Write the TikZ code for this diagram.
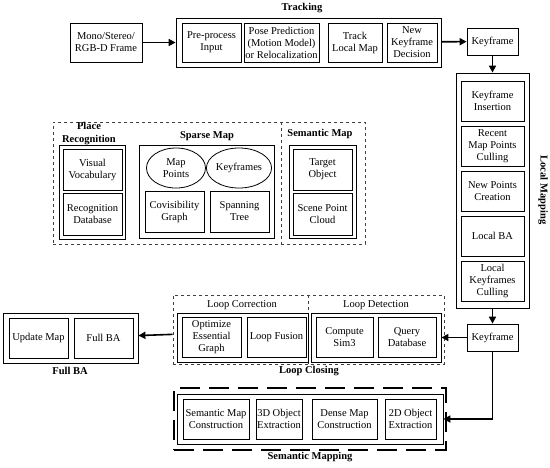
\documentclass[tikz,border=0pt]{standalone}
\usepackage{fontspec}
\setmainfont{Liberation Serif}
\usetikzlibrary{arrows.meta,shapes.geometric}

\tikzset{
	blk/.style={draw, rectangle, inner sep=0pt, align=center, line width=0.8pt, font=\fontsize{10.5}{12}\selectfont},
	grp/.style={draw, rectangle, inner sep=0pt, line width=0.8pt},
	dgrp/.style={draw=black!75, dashed, line width=0.6pt, inner sep=0pt},
	ttl/.style={font=\bfseries\fontsize{10.5}{12.5}\selectfont, align=center},
	lbl/.style={font=\fontsize{10.5}{12}\selectfont, align=center},
	sz/.style 2 args={minimum width=#1pt, minimum height=#2pt},
	flow/.style={line width=1.6pt, -{Triangle[length=7pt,width=7pt]}},
}

\begin{document}
\begin{tikzpicture}[x=1pt, y=-1pt]
	\useasboundingbox (0,0) rectangle (550,467);

	% tracking
	\draw (106, 42.5) 	node[blk, sz={72}{39}] 	(frame) 	{Mono/Stereo/\\RGB-D Frame};
	\draw (308.5, 42.5) node[grp, sz={265}{49}] 	(track) 	{};
	\draw (211.5, 42.5) node[blk, sz={59}{39}] 	(pre) 		{Pre-process\\Input};
	\draw (281.5, 42.5) node[blk, sz={75}{39}] 	(pose) 		{Pose Prediction\\(Motion Model)\\or Relocalization};
	\draw (355, 42.5) 	node[blk, sz={54}{39}] 	(tlm) 		{Track\\Local Map};
	\draw (412, 42.5) 	node[blk, sz={50}{39}] 	(nkd) 		{New\\Keyframe\\Decision};
	\draw (302, 8) 		node[ttl] 				(track_t) 	{Tracking};
	\draw (492.5, 41.5) node[blk, sz={51}{27}] 	(kf1) 		{Keyframe};

	% local mapping
	\draw (492.5, 190.5) node[grp, sz={73}{235}] 	(lm) 	{};
	\draw (492.5, 101) 	node[blk, sz={63}{40}] 	(ki) 		{Keyframe\\Insertion};
	\draw (492.5, 146) 	node[blk, sz={63}{40}] 	(rmpc) 		{Recent\\Map Points\\Culling};
	\draw (492.5, 191) 	node[blk, sz={63}{40}] 	(npc) 		{New Points\\Creation};
	\draw (492.5, 236) 	node[blk, sz={63}{40}] 	(lba) 		{Local BA};
	\draw (492.5, 281) 	node[blk, sz={63}{40}] 	(lkc) 		{Local\\Keyframes\\Culling};
	\draw (543, 190) 	node[ttl, rotate=-90] 	(lm_t) 		{Local Mapping};
	\draw (492.5, 337.5) node[blk, sz={51}{27}] (kf2) 		{Keyframe};

	% maps
	\draw (209, 183) 	node[dgrp, sz={312}{122}] 	(maps) 	{};
	\draw[dgrp] (281, 122) -- (281, 244);
	\draw (92, 192) 	node[grp, sz={66}{94}] 	(pr) 		{};
	\draw (92.5, 169.5) node[blk, sz={59}{41}] 	(vv) 		{Visual\\Vocabulary};
	\draw (92.5, 214) 	node[blk, sz={59}{42}] 	(rd) 		{Recognition\\Database};
	\draw (89, 133.5) 	node[ttl] 				(pr_t) 		{Place\\Recognition};
	\draw (206.5, 191.5) node[grp, sz={135}{93}] (sm) 		{};
	\draw (176, 168) 	node[blk, ellipse, sz={59}{40}] (mp) {Map\\Points};
	\draw (239, 168) 	node[blk, ellipse, sz={62}{40}] (kfs) {Keyframes};
	\draw (174.5, 211.5) node[blk, sz={59}{41}] (cg) 		{Covisibility\\Graph};
	\draw (239.5, 211.5) node[blk, sz={59}{41}] (st) 		{Spanning\\Tree};
	\draw (207, 136) 	node[ttl] 				(sm_t) 		{Sparse Map};
	\draw (322.5, 191.5) node[grp, sz={67}{93}] (sem) 		{};
	\draw (322.5, 169.5) node[blk, sz={59}{41}] (to) 		{Target\\Object};
	\draw (322.5, 214) 	node[blk, sz={59}{42}] 	(spc) 		{Scene Point\\Cloud};
	\draw (320, 134) 	node[ttl] 				(sem_t) 	{Semantic Map};

	% loop closing
	\draw (308.5, 329.5) node[dgrp, sz={271}{69}] (lcd) 	{};
	\draw[dgrp] (lcd.north) -- (lcd.south);
	\draw (242.5, 337.5) node[grp, sz={131}{49}] (lcs) 		{};
	\draw (376, 337.5) 	node[grp, sz={130}{49}] (lds) 		{};
	\draw (211.5, 337) 	node[blk, sz={59}{40}] 	(opt) 		{Optimize\\Essential\\Graph};
	\draw (276.5, 337) 	node[blk, sz={59}{40}] 	(lf) 		{Loop Fusion};
	\draw (344.5, 337) 	node[blk, sz={57}{40}] 	(cs) 		{Compute\\Sim3};
	\draw (407, 337) 	node[blk, sz={58}{40}] 	(qd) 		{Query\\Database};
	\draw (242, 305) 	node[lbl] 				(lcs_t) 	{Loop Correction};
	\draw (376, 305) 	node[lbl] 				(lds_t) 	{Loop Detection};
	\draw (309, 371) 	node[ttl] 				(lc_t) 		{Loop Closing};

	% full BA
	\draw (70.5, 338) 	node[grp, sz={135}{50}] (fba) 		{};
	\draw (38.5, 338) 	node[blk, sz={59}{40}] 	(um) 		{Update Map};
	\draw (103.5, 338) 	node[blk, sz={59}{40}] 	(fb) 		{Full BA};
	\draw (70, 371) 	node[ttl] 				(fba_t) 	{Full BA};

	% semantic mapping
	\draw (310, 419) 	node[draw, dash pattern=on 20pt off 9pt, line width=1.6pt, inner sep=0pt, sz={272}{62}] (smd) {};
	\draw (310, 419) 	node[grp, sz={266}{50}] (sms) 		{};
	\draw (216, 419) 	node[blk, sz={66}{40}] 	(smc) 		{Semantic Map\\Construction};
	\draw (279, 419) 	node[blk, sz={46}{40}] 	(oe3) 		{3D Object\\Extraction};
	\draw (344.5, 419) 	node[blk, sz={65}{40}] 	(dmc) 		{Dense Map\\Construction};
	\draw (410.5, 419) 	node[blk, sz={51}{40}] 	(oe2) 		{2D Object\\Extraction};
	\draw (310, 457) 	node[ttl] 				(smp_t) 	{Semantic Mapping};

	\draw[flow] (frame) -- (track);
	\draw[flow] (track) -- (kf1);
	\draw[flow] (kf1) -- (lm);
	\draw[flow] (lm) -- (kf2);
	\draw[flow] (kf2) -- (lds);
	\draw[flow] (lcd) -- (fba);
	\draw[flow] (kf2.south) |- (sms.east);
\end{tikzpicture}
\end{document}
